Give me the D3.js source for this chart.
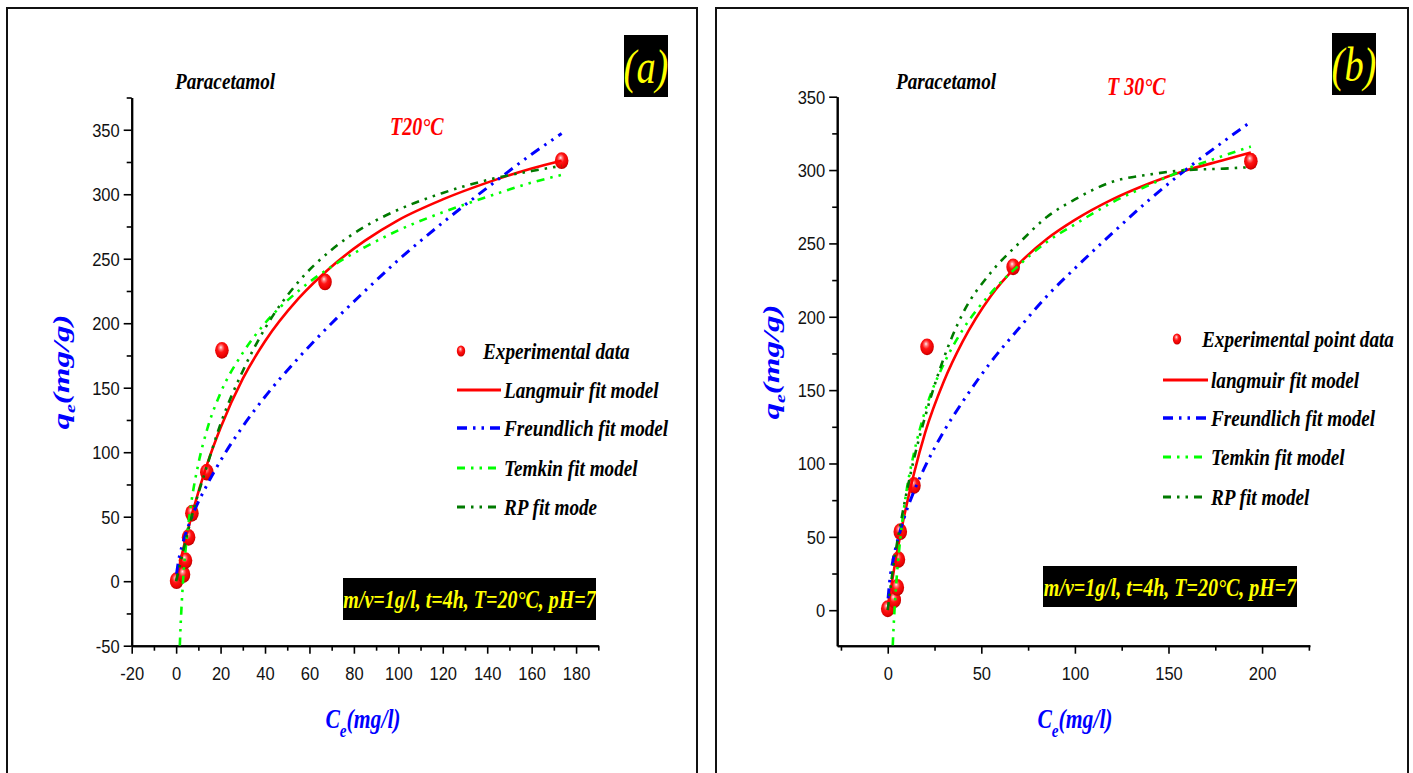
<!DOCTYPE html>
<html>
<head>
<meta charset="utf-8">
<script src="https://cdn.jsdelivr.net/npm/d3@7"></script>
<style>
  html, body { margin: 0; padding: 0; background: #fff; }
  svg { display: block; }
</style>
</head>
<body>
<svg id="chart" width="1413" height="773"></svg>
<script>
// ---------- Experimental isotherm data ----------
// Panel (a), 20 °C
const ceA = [0.2, 3.3, 4.2, 5.6, 7.1, 13.8, 20.6, 67.0, 173.5];
const qeA = [0.4, 5.2, 16.0, 34.0, 52.7, 84.5, 179.0, 232.0, 326.0];
// Panel (b), 30 °C
const ceB = [0.0, 3.5, 5.1, 5.7, 6.7, 14.0, 21.0, 67.0, 194.0];
const qeB = [1.0, 7.0, 15.5, 34.5, 53.5, 85.0, 179.5, 234.0, 306.0];

// ---------- Fitted model curves, panel (a) ----------
const langmuirCeA = [0, 3, 7, 14, 20, 30, 40, 55, 70, 85, 100, 120, 140, 160, 173.5];
const langmuirQeA = [0, 23.5, 51, 91, 119, 157, 186, 219, 244, 264, 280, 296, 309, 320, 326];
const freundlichCeA = [0.2, 1, 3, 7, 14, 20, 30, 40, 55, 70, 85, 100, 120, 140, 160, 173.5];
const freundlichQeA = [5.7, 15, 29.5, 49.5, 75, 93.5, 120, 143, 173, 200, 225, 249, 278, 305, 331, 347];
const temkinCeA = [1.65, 2, 3, 5, 7, 10, 14, 20, 30, 40, 55, 70, 85, 100, 120, 140, 160, 173.5];
const temkinQeA = [-50, -35, -3, 37, 63, 91, 118, 146, 177, 200, 225, 244, 259, 272, 286, 298, 309, 315];
const rpCeA = [0, 3, 7, 14, 20, 30, 40, 55, 70, 85, 100, 120, 140, 160, 173.5];
const rpQeA = [0, 22, 50, 90, 122, 163, 196, 232, 257, 275, 288, 301, 311, 318, 322];

// ---------- Fitted model curves, panel (b) ----------
const langmuirCeB = [0, 3, 7, 14, 20, 30, 40, 55, 70, 85, 100, 120, 140, 160, 180, 194];
const langmuirQeB = [0, 25, 53, 93, 121, 156, 183, 214, 236, 253, 266, 280, 291, 300, 307, 312];
const freundlichCeB = [0.2, 1, 3, 7, 14, 20, 30, 40, 55, 70, 85, 100, 120, 140, 160, 180, 194];
const freundlichQeB = [8, 19.5, 35, 55.5, 81, 98, 122, 142, 169, 192, 214, 233, 257, 280, 301, 320, 333];
const temkinCeB = [2.68, 3, 4, 5, 7, 10, 14, 20, 30, 40, 55, 70, 85, 100, 120, 140, 160, 180, 194];
const temkinQeB = [-24, -15, 8, 25.6, 52, 81, 107, 136, 168, 191, 216, 235, 251, 263, 278, 290, 301, 310, 316];
const rpCeB = [0, 3, 7, 14, 20, 30, 40, 55, 70, 85, 100, 120, 140, 160, 180, 194];
const rpQeB = [0, 30, 60, 103, 132, 172, 202, 230, 250, 268, 280, 292, 297, 300, 301, 302];

// ---------- Axis ticks and labels ----------
const xTicksA = [-20, 0, 20, 40, 60, 80, 100, 120, 140, 160, 180];
const xMinorA = [-10, 10, 30, 50, 70, 90, 110, 130, 150, 170, 190];
const yTicksA = [-50, 0, 50, 100, 150, 200, 250, 300, 350];
const yMinorA = [-25, 25, 75, 125, 175, 225, 275, 325, 375];
const xTicksB = [0, 50, 100, 150, 200];
const xMinorB = [-25, 25, 75, 125, 175, 225];
const yTicksB = [0, 50, 100, 150, 200, 250, 300, 350];
const yMinorB = [25, 75, 125, 175, 225, 275, 325];

const legendA = ["Experimental data", "Langmuir fit model", "Freundlich fit model", "Temkin fit model", "RP fit mode"];
const legendB = ["Experimental point data", "langmuir fit model", "Freundlich fit model", "Temkin fit model", "RP fit model"];
const conditionText = "m/v=1g/l, t=4h, T=20°C, pH=7";

// ---------- Styles ----------
const SERIF = "'Liberation Serif','Times New Roman',serif";
const SANS = "'Liberation Sans',Arial,sans-serif";
const SQ_SERIF = 0.8;   // horizontal condensing of serif lettering
const SQ_SANS = 0.87;   // horizontal condensing of tick numbers

const modelStyles = [
  { key: "langmuir",   stroke: "#ff0000", width: 2.6, dash: null },
  { key: "freundlich", stroke: "#0000ff", width: 3,   dash: "10,6,2.5,6,2.5,6" },
  { key: "temkin",     stroke: "#00ff00", width: 2.6, dash: "8,6,2.5,6,2.5,6" },
  { key: "rp",         stroke: "#007a00", width: 2.6, dash: "8,6,2.5,6,2.5,6" }
];

const svg = d3.select("#chart");
const defs = svg.append("defs");

// shaded red sphere for the experimental points
const ball = defs.append("radialGradient").attr("id", "ball")
  .attr("cx", "45%").attr("cy", "40%").attr("r", "60%")
  .attr("fx", "42%").attr("fy", "32%");
[["0%", "#fff0f0"], ["20%", "#ff7a7a"], ["45%", "#ff1414"], ["85%", "#e80000"], ["100%", "#b00000"]]
  .forEach(([o, c]) => ball.append("stop").attr("offset", o).attr("stop-color", c));

// text helper: condensed lettering positioned by a wrapping group
function label(parent, x, y, opts) {
  const o = Object.assign({ size: 22, family: SERIF, weight: "bold", style: "italic",
    fill: "#000", anchor: "start", k: SQ_SERIF, rotate: 0 }, opts);
  const g = parent.append("g")
    .attr("transform", `translate(${x},${y})` + (o.rotate ? ` rotate(${o.rotate})` : ""));
  const t = g.append("text")
    .attr("transform", o.rotate ? `scale(1,${o.k})` : `scale(${o.k},1)`)
    .attr("font-family", o.family).attr("font-size", o.size)
    .attr("font-weight", o.weight).attr("font-style", o.style)
    .attr("fill", o.fill).attr("text-anchor", o.anchor);
  if (o.text !== undefined) t.text(o.text);
  return t;
}

function subscripted(t, main, sub, rest, subSize) {
  t.append("tspan").text(main);
  t.append("tspan").attr("font-size", subSize).attr("dy", subSize * 0.45).text(sub);
  t.append("tspan").attr("dy", -subSize * 0.45).text(rest);
}

const plainNumber = d => String(d);

function drawPanel(p) {
  const g = svg.append("g");

  // panel frame (open at the bottom edge of the page)
  g.append("path")
    .attr("d", `M${p.frame[0]},${p.frame[3]} V${p.frame[1]} H${p.frame[2]} V${p.frame[3]}`)
    .attr("fill", "none").attr("stroke", "#111").attr("stroke-width", 2);

  const x = d3.scaleLinear().domain(p.xDomain).range(p.xRange);
  const y = d3.scaleLinear().domain(p.yDomain).range(p.yRange);

  // axes: minor ticks, then major ticks with labels
  const xMinorAxis = g.append("g").attr("transform", `translate(0,${p.yRange[0]})`)
    .call(d3.axisBottom(x).tickValues(p.xMinor).tickSize(5).tickSizeOuter(0).tickFormat(""));
  const xAxis = g.append("g").attr("transform", `translate(0,${p.yRange[0]})`)
    .call(d3.axisBottom(x).tickValues(p.xTicks).tickSize(8).tickSizeOuter(0).tickFormat(plainNumber));
  const yMinorAxis = g.append("g").attr("transform", `translate(${p.xRange[0]},0)`)
    .call(d3.axisLeft(y).tickValues(p.yMinor).tickSize(5).tickSizeOuter(0).tickFormat(""));
  const yAxis = g.append("g").attr("transform", `translate(${p.xRange[0]},0)`)
    .call(d3.axisLeft(y).tickValues(p.yTicks).tickSize(8).tickSizeOuter(0).tickFormat(plainNumber));

  [xMinorAxis, xAxis, yMinorAxis, yAxis].forEach(a => {
    a.select(".domain").attr("stroke", "#000").attr("stroke-width", 2);
    a.selectAll(".tick line").attr("stroke", "#000").attr("stroke-width", 1.6);
  });
  xAxis.selectAll(".tick text")
    .attr("font-family", SANS).attr("font-size", 19).attr("fill", "#111")
    .attr("y", 21).attr("dy", "0.71em")
    .attr("transform", `scale(${SQ_SANS},1)`);
  yAxis.selectAll(".tick text")
    .attr("font-family", SANS).attr("font-size", 19).attr("fill", "#111")
    .attr("x", -12 / SQ_SANS).attr("dy", "0.34em")
    .attr("transform", `scale(${SQ_SANS},1)`);

  // clip for fitted curves
  const clipId = "clip-" + p.id;
  defs.append("clipPath").attr("id", clipId).append("rect")
    .attr("x", p.xRange[0]).attr("y", p.yRange[1])
    .attr("width", p.xRange[1] - p.xRange[0]).attr("height", p.yRange[0] - p.yRange[1]);

  // experimental points
  const pts = d3.zip(p.ce, p.qe);
  g.append("g").selectAll("ellipse").data(pts).join("ellipse")
    .attr("cx", d => x(d[0])).attr("cy", d => y(d[1]))
    .attr("rx", 6.8).attr("ry", 8.4)
    .attr("fill", "url(#ball)");

  // model curves
  const line = d3.line().x(d => x(d[0])).y(d => y(d[1])).curve(d3.curveMonotoneX);
  const curves = g.append("g").attr("clip-path", `url(#${clipId})`);
  modelStyles.forEach((s, i) => {
    const c = p.models[i];
    curves.append("path")
      .attr("d", line(d3.zip(c[0], c[1])))
      .attr("fill", "none").attr("stroke", s.stroke).attr("stroke-width", s.width)
      .attr("stroke-dasharray", s.dash).attr("stroke-linejoin", "round");
  });

  // legend
  const lg = g.append("g");
  p.legend.forEach((name, i) => {
    const ry = p.legendRows[i];
    if (i === 0) {
      lg.append("ellipse").attr("cx", p.legendMarkerX).attr("cy", ry)
        .attr("rx", 4.2).attr("ry", 5.5).attr("fill", "url(#ball)");
      label(lg, p.legendText0X, ry + 8, { size: 24, text: name });
    } else {
      const s = modelStyles[i - 1];
      lg.append("line").attr("x1", p.legendLine[0]).attr("x2", p.legendLine[1])
        .attr("y1", ry).attr("y2", ry)
        .attr("stroke", s.stroke).attr("stroke-width", s.width + 0.6)
        .attr("stroke-dasharray", s.dash);
      label(lg, p.legendLine[1] + 3, ry + 8, { size: 24, text: name });
    }
  });

  // titles and annotations
  label(g, p.drugPos[0], p.drugPos[1], { size: 24, text: "Paracetamol" });
  label(g, p.tempPos[0], p.tempPos[1], { size: 25, fill: "#ff0000", text: p.tempText });

  g.append("rect").attr("x", p.tagBox[0]).attr("y", p.tagBox[1])
    .attr("width", p.tagBox[2]).attr("height", p.tagBox[3]).attr("fill", "#000");
  label(g, p.tagBox[0] + p.tagBox[2] / 2, p.tagBox[1] + p.tagBox[3] * 0.77,
    { size: 48, weight: "normal", fill: "#ffff00", anchor: "middle", text: p.tag });

  g.append("rect").attr("x", p.condBox[0]).attr("y", p.condBox[1])
    .attr("width", p.condBox[2]).attr("height", p.condBox[3]).attr("fill", "#000");
  label(g, p.condBox[0] + p.condBox[2] / 2, p.condBox[1] + p.condBox[3] * 0.72,
    { size: 25, fill: "#ffff00", anchor: "middle", text: conditionText });

  // axis titles
  const xt = label(g, p.xTitle[0], p.xTitle[1], { size: 27, fill: "#0000ff", anchor: "middle" });
  subscripted(xt, "C", "e", "(mg/l)", 19);
  const yt = label(g, p.yTitle[0], p.yTitle[1], { size: 33, k: 0.7, fill: "#0000ff", anchor: "middle", rotate: -90 });
  subscripted(yt, "q", "e", "(mg/g)", 20);
}

drawPanel({
  id: "a",
  frame: [7, 8, 697, 790],
  xDomain: [-20, 190], xRange: [131.7, 598.3],
  yDomain: [-50, 375], yRange: [645.7, 97.5],
  xTicks: xTicksA, xMinor: xMinorA, yTicks: yTicksA, yMinor: yMinorA,
  ce: ceA, qe: qeA,
  models: [[langmuirCeA, langmuirQeA], [freundlichCeA, freundlichQeA],
           [temkinCeA, temkinQeA], [rpCeA, rpQeA]],
  legend: legendA,
  legendRows: [351, 390, 428, 468, 507],
  legendMarkerX: 461, legendText0X: 483, legendLine: [457, 501],
  drugPos: [175, 89], tempPos: [390, 135], tempText: "T20°C",
  tagBox: [624, 35, 44, 62], tag: "(a)",
  condBox: [343, 578, 253, 42],
  xTitle: [363, 728], yTitle: [69, 372]
});

drawPanel({
  id: "b",
  frame: [716, 8, 1408, 790],
  xDomain: [-27, 225.5], xRange: [837.2, 1309.8],
  yDomain: [-24.2, 350], yRange: [645.7, 96.7],
  xTicks: xTicksB, xMinor: xMinorB, yTicks: yTicksB, yMinor: yMinorB,
  ce: ceB, qe: qeB,
  models: [[langmuirCeB, langmuirQeB], [freundlichCeB, freundlichQeB],
           [temkinCeB, temkinQeB], [rpCeB, rpQeB]],
  legend: legendB,
  legendRows: [339, 380, 418, 457, 497],
  legendMarkerX: 1177, legendText0X: 1202, legendLine: [1163, 1208],
  drugPos: [896, 89], tempPos: [1107, 95], tempText: "T 30°C",
  tagBox: [1332, 33, 44, 62], tag: "(b)",
  condBox: [1043, 566, 254, 41],
  xTitle: [1075, 728], yTitle: [779, 362]
});
</script>
</body>
</html>
